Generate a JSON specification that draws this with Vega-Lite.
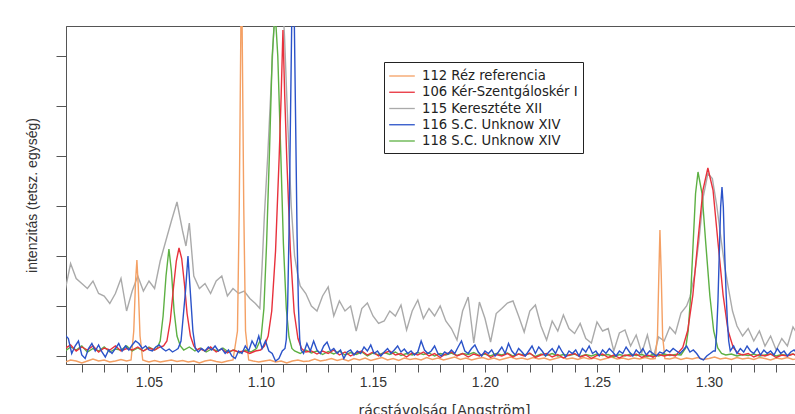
{
  "$schema": "https://vega.github.io/schema/vega-lite/v6.json",
  "autosize": "none",
  "padding": {"left": 66, "top": 26, "right": 0, "bottom": 50},
  "width": 756,
  "height": 338,
  "config": {
    "font": "Liberation Sans",
    "view": {"stroke": "#555555", "strokeWidth": 1},
    "axis": {"grid": false, "domainColor": "#555555", "tickColor": "#555555", "labelFont": "Liberation Sans", "titleFont": "Liberation Sans", "labelFontSize": 14, "titleFontSize": 14, "titleFontWeight": "normal", "labelColor": "#333333", "titleColor": "#333333"}
  },
  "datasets": {
    "s112": [
      {"x":1.0125,"y":-0.12},{"x":1.015,"y":-0.08},{"x":1.0175,"y":-0.1},{"x":1.02,"y":-0.14},{"x":1.0225,"y":-0.1},{"x":1.025,"y":-0.06},{"x":1.0275,"y":-0.1},{"x":1.03,"y":-0.08},{"x":1.0325,"y":-0.12},{"x":1.035,"y":-0.1},{"x":1.0375,"y":-0.07},{"x":1.04,"y":-0.1},{"x":1.042,"y":-0.08},{"x":1.0432,"y":0.5},{"x":1.044,"y":1.5},{"x":1.0446,"y":1.92},{"x":1.0452,"y":1.4},{"x":1.046,"y":0.4},{"x":1.0472,"y":-0.08},{"x":1.0485,"y":-0.1},{"x":1.05,"y":-0.12},{"x":1.0525,"y":-0.09},{"x":1.055,"y":-0.12},{"x":1.0575,"y":-0.1},{"x":1.06,"y":-0.08},{"x":1.0625,"y":-0.11},{"x":1.065,"y":-0.09},{"x":1.0675,"y":-0.12},{"x":1.07,"y":-0.1},{"x":1.0725,"y":-0.14},{"x":1.075,"y":-0.1},{"x":1.0775,"y":-0.08},{"x":1.08,"y":-0.11},{"x":1.0825,"y":-0.13},{"x":1.085,"y":-0.1},{"x":1.0875,"y":-0.08},{"x":1.0895,"y":0.5},{"x":1.0903,"y":3.0},{"x":1.091,"y":6.5},{"x":1.0913,"y":8.5},{"x":1.0916,"y":6.5},{"x":1.0923,"y":3.0},{"x":1.0931,"y":0.5},{"x":1.0945,"y":-0.08},{"x":1.0965,"y":-0.1},{"x":1.099,"y":-0.12},{"x":1.1015,"y":-0.1},{"x":1.104,"y":-0.08},{"x":1.1065,"y":-0.12},{"x":1.109,"y":-0.1},{"x":1.1115,"y":-0.14},{"x":1.114,"y":-0.1},{"x":1.1165,"y":-0.08},{"x":1.119,"y":-0.11},{"x":1.1215,"y":-0.1},{"x":1.124,"y":-0.06},{"x":1.1265,"y":-0.1},{"x":1.129,"y":-0.08},{"x":1.1315,"y":-0.05},{"x":1.134,"y":-0.09},{"x":1.1365,"y":-0.06},{"x":1.139,"y":-0.1},{"x":1.1415,"y":-0.05},{"x":1.144,"y":-0.08},{"x":1.1465,"y":-0.04},{"x":1.149,"y":-0.09},{"x":1.1515,"y":-0.06},{"x":1.154,"y":-0.03},{"x":1.1565,"y":-0.08},{"x":1.159,"y":-0.05},{"x":1.1615,"y":-0.09},{"x":1.164,"y":-0.04},{"x":1.1665,"y":-0.07},{"x":1.169,"y":-0.05},{"x":1.1715,"y":-0.08},{"x":1.174,"y":-0.03},{"x":1.1765,"y":-0.07},{"x":1.179,"y":-0.04},{"x":1.1815,"y":-0.08},{"x":1.184,"y":-0.05},{"x":1.1865,"y":-0.02},{"x":1.189,"y":-0.07},{"x":1.1915,"y":-0.04},{"x":1.194,"y":-0.08},{"x":1.1965,"y":-0.05},{"x":1.199,"y":-0.03},{"x":1.2015,"y":-0.07},{"x":1.204,"y":-0.04},{"x":1.2065,"y":-0.08},{"x":1.209,"y":-0.05},{"x":1.2115,"y":-0.02},{"x":1.214,"y":-0.06},{"x":1.2165,"y":-0.04},{"x":1.219,"y":-0.07},{"x":1.2215,"y":-0.03},{"x":1.224,"y":-0.06},{"x":1.2265,"y":-0.04},{"x":1.229,"y":-0.08},{"x":1.2315,"y":-0.05},{"x":1.234,"y":-0.02},{"x":1.2365,"y":-0.06},{"x":1.239,"y":-0.04},{"x":1.2415,"y":-0.07},{"x":1.244,"y":-0.03},{"x":1.2465,"y":-0.06},{"x":1.249,"y":-0.04},{"x":1.2515,"y":-0.08},{"x":1.254,"y":-0.05},{"x":1.2565,"y":-0.02},{"x":1.259,"y":-0.06},{"x":1.2615,"y":-0.04},{"x":1.264,"y":-0.07},{"x":1.2665,"y":-0.04},{"x":1.269,"y":-0.06},{"x":1.2715,"y":-0.03},{"x":1.274,"y":-0.06},{"x":1.276,"y":-0.05},{"x":1.277,"y":0.4},{"x":1.2776,"y":1.6},{"x":1.2781,"y":2.52},{"x":1.2787,"y":1.6},{"x":1.2793,"y":0.4},{"x":1.2803,"y":-0.05},{"x":1.2825,"y":-0.06},{"x":1.285,"y":-0.03},{"x":1.2875,"y":-0.07},{"x":1.29,"y":-0.04},{"x":1.2925,"y":-0.06},{"x":1.295,"y":-0.03},{"x":1.2975,"y":-0.07},{"x":1.3,"y":-0.05},{"x":1.3025,"y":-0.02},{"x":1.305,"y":-0.06},{"x":1.3075,"y":-0.04},{"x":1.31,"y":-0.07},{"x":1.3125,"y":-0.03},{"x":1.315,"y":-0.06},{"x":1.3175,"y":-0.04},{"x":1.32,"y":-0.07},{"x":1.3225,"y":-0.03},{"x":1.325,"y":-0.05},{"x":1.3275,"y":-0.08},{"x":1.33,"y":-0.04},{"x":1.3325,"y":-0.06},{"x":1.335,"y":-0.03},{"x":1.3375,"y":-0.07},{"x":1.34,"y":-0.05},{"x":1.3425,"y":-0.03},{"x":1.345,"y":-0.06},{"x":1.3475,"y":-0.04},{"x":1.35,"y":-0.06}
    ],
    "s106": [
      {"x":1.0125,"y":0.15},{"x":1.015,"y":0.22},{"x":1.0175,"y":0.1},{"x":1.02,"y":0.18},{"x":1.0225,"y":0.12},{"x":1.025,"y":0.2},{"x":1.0275,"y":0.08},{"x":1.03,"y":0.16},{"x":1.0325,"y":0.12},{"x":1.035,"y":0.2},{"x":1.0375,"y":0.1},{"x":1.04,"y":0.15},{"x":1.0425,"y":0.12},{"x":1.045,"y":0.18},{"x":1.0475,"y":0.1},{"x":1.05,"y":0.16},{"x":1.0525,"y":0.12},{"x":1.055,"y":0.18},{"x":1.0565,"y":0.2},{"x":1.058,"y":0.3},{"x":1.0595,"y":0.7},{"x":1.061,"y":1.4},{"x":1.0622,"y":1.9},{"x":1.0634,"y":2.16},{"x":1.0646,"y":1.95},{"x":1.0658,"y":1.45},{"x":1.067,"y":0.85},{"x":1.0685,"y":0.4},{"x":1.07,"y":0.2},{"x":1.0715,"y":0.12},{"x":1.0725,"y":0.15},{"x":1.075,"y":0.1},{"x":1.0775,"y":0.18},{"x":1.08,"y":0.08},{"x":1.0825,"y":0.14},{"x":1.085,"y":0.06},{"x":1.0875,"y":0.12},{"x":1.09,"y":0.08},{"x":1.0925,"y":0.1},{"x":1.095,"y":0.05},{"x":1.0975,"y":0.1},{"x":1.0998,"y":0.12},{"x":1.1015,"y":0.2},{"x":1.1032,"y":0.4},{"x":1.1048,"y":0.9},{"x":1.1065,"y":2.1},{"x":1.1081,"y":3.96},{"x":1.109,"y":5.2},{"x":1.1098,"y":6.52},{"x":1.1106,"y":5.2},{"x":1.1115,"y":3.96},{"x":1.1131,"y":2.12},{"x":1.1148,"y":0.88},{"x":1.1165,"y":0.35},{"x":1.1181,"y":0.15},{"x":1.12,"y":0.08},{"x":1.1225,"y":0.1},{"x":1.125,"y":0.04},{"x":1.1275,"y":0.1},{"x":1.13,"y":0.05},{"x":1.1325,"y":0.12},{"x":1.135,"y":0.02},{"x":1.1375,"y":0.08},{"x":1.14,"y":0.0},{"x":1.1425,"y":0.06},{"x":1.145,"y":0.1},{"x":1.1475,"y":0.02},{"x":1.15,"y":0.08},{"x":1.1525,"y":0.0},{"x":1.155,"y":0.06},{"x":1.1575,"y":0.1},{"x":1.16,"y":0.02},{"x":1.1625,"y":0.05},{"x":1.165,"y":-0.02},{"x":1.1675,"y":0.06},{"x":1.17,"y":0.02},{"x":1.1725,"y":0.08},{"x":1.175,"y":0.0},{"x":1.1775,"y":0.05},{"x":1.18,"y":-0.03},{"x":1.1825,"y":0.04},{"x":1.185,"y":0.08},{"x":1.1875,"y":0.0},{"x":1.19,"y":0.05},{"x":1.1925,"y":-0.02},{"x":1.195,"y":0.04},{"x":1.1975,"y":0.0},{"x":1.2,"y":0.06},{"x":1.2025,"y":-0.03},{"x":1.205,"y":0.03},{"x":1.2075,"y":0.0},{"x":1.21,"y":0.05},{"x":1.2125,"y":-0.02},{"x":1.215,"y":0.04},{"x":1.2175,"y":0.0},{"x":1.22,"y":0.06},{"x":1.2225,"y":-0.03},{"x":1.225,"y":0.02},{"x":1.2275,"y":0.05},{"x":1.23,"y":-0.02},{"x":1.2325,"y":0.03},{"x":1.235,"y":-0.04},{"x":1.2375,"y":0.02},{"x":1.24,"y":0.05},{"x":1.2425,"y":-0.02},{"x":1.245,"y":0.02},{"x":1.2475,"y":-0.05},{"x":1.25,"y":0.01},{"x":1.2525,"y":0.04},{"x":1.255,"y":-0.03},{"x":1.2575,"y":0.02},{"x":1.26,"y":-0.04},{"x":1.2625,"y":0.02},{"x":1.265,"y":0.0},{"x":1.2675,"y":0.04},{"x":1.27,"y":-0.03},{"x":1.2725,"y":0.02},{"x":1.275,"y":-0.02},{"x":1.2775,"y":0.03},{"x":1.28,"y":0.0},{"x":1.2825,"y":0.03},{"x":1.285,"y":0.0},{"x":1.2883,"y":0.17},{"x":1.2905,"y":0.51},{"x":1.2928,"y":1.22},{"x":1.295,"y":2.28},{"x":1.2973,"y":3.32},{"x":1.2995,"y":3.76},{"x":1.3018,"y":3.32},{"x":1.304,"y":2.28},{"x":1.3063,"y":1.22},{"x":1.3085,"y":0.51},{"x":1.3108,"y":0.17},{"x":1.313,"y":0.05},{"x":1.315,"y":0.02},{"x":1.3175,"y":0.05},{"x":1.32,"y":-0.02},{"x":1.3225,"y":0.03},{"x":1.325,"y":0.0},{"x":1.3275,"y":0.04},{"x":1.33,"y":-0.03},{"x":1.3325,"y":0.02},{"x":1.335,"y":0.0},{"x":1.3375,"y":0.04},{"x":1.34,"y":-0.02},{"x":1.3425,"y":0.02},{"x":1.345,"y":0.0},{"x":1.3475,"y":0.03},{"x":1.35,"y":-0.01}
    ],
    "s115": [
      {"x":1.0125,"y":1.3},{"x":1.015,"y":1.85},{"x":1.0175,"y":1.55},{"x":1.02,"y":1.45},{"x":1.0225,"y":1.35},{"x":1.025,"y":1.5},{"x":1.0275,"y":1.25},{"x":1.03,"y":1.2},{"x":1.0325,"y":1.05},{"x":1.035,"y":1.25},{"x":1.0375,"y":1.55},{"x":1.04,"y":0.9},{"x":1.0425,"y":1.3},{"x":1.045,"y":1.6},{"x":1.0475,"y":1.3},{"x":1.05,"y":1.5},{"x":1.0525,"y":1.35},{"x":1.055,"y":1.9},{"x":1.0575,"y":2.3},{"x":1.06,"y":2.7},{"x":1.0625,"y":3.08},{"x":1.065,"y":2.5},{"x":1.0665,"y":2.2},{"x":1.068,"y":2.66},{"x":1.07,"y":1.6},{"x":1.0725,"y":1.35},{"x":1.075,"y":1.45},{"x":1.0775,"y":1.25},{"x":1.08,"y":1.5},{"x":1.0825,"y":1.6},{"x":1.085,"y":1.2},{"x":1.0875,"y":1.35},{"x":1.09,"y":1.25},{"x":1.0925,"y":1.3},{"x":1.095,"y":1.15},{"x":1.0975,"y":1.05},{"x":1.0995,"y":0.95},{"x":1.1005,"y":1.8},{"x":1.1015,"y":2.8},{"x":1.103,"y":4.0},{"x":1.1045,"y":5.4},{"x":1.106,"y":6.8},{"x":1.1075,"y":7.8},{"x":1.109,"y":7.6},{"x":1.1105,"y":6.4},{"x":1.112,"y":4.6},{"x":1.1135,"y":3.0},{"x":1.115,"y":2.0},{"x":1.1165,"y":1.6},{"x":1.1175,"y":1.4},{"x":1.12,"y":1.25},{"x":1.1225,"y":1.0},{"x":1.125,"y":0.9},{"x":1.1275,"y":1.2},{"x":1.13,"y":1.38},{"x":1.1325,"y":0.8},{"x":1.135,"y":1.1},{"x":1.1375,"y":0.9},{"x":1.14,"y":1.0},{"x":1.1425,"y":0.5},{"x":1.145,"y":0.95},{"x":1.1475,"y":1.06},{"x":1.15,"y":0.8},{"x":1.1525,"y":0.65},{"x":1.155,"y":0.7},{"x":1.1575,"y":0.9},{"x":1.16,"y":0.8},{"x":1.1625,"y":1.02},{"x":1.165,"y":0.52},{"x":1.1675,"y":0.9},{"x":1.17,"y":1.12},{"x":1.1725,"y":0.75},{"x":1.175,"y":0.95},{"x":1.1775,"y":0.8},{"x":1.18,"y":1.0},{"x":1.1825,"y":0.7},{"x":1.185,"y":0.55},{"x":1.1875,"y":0.32},{"x":1.19,"y":0.9},{"x":1.1925,"y":1.18},{"x":1.195,"y":0.26},{"x":1.1975,"y":1.08},{"x":1.2,"y":0.75},{"x":1.2025,"y":0.28},{"x":1.205,"y":0.85},{"x":1.2075,"y":0.95},{"x":1.21,"y":1.06},{"x":1.2125,"y":1.1},{"x":1.215,"y":0.8},{"x":1.2175,"y":0.48},{"x":1.22,"y":0.9},{"x":1.2225,"y":1.02},{"x":1.225,"y":0.6},{"x":1.2275,"y":0.32},{"x":1.23,"y":0.7},{"x":1.2325,"y":0.5},{"x":1.235,"y":0.82},{"x":1.2375,"y":0.55},{"x":1.24,"y":0.45},{"x":1.2425,"y":0.65},{"x":1.245,"y":0.35},{"x":1.2475,"y":0.26},{"x":1.25,"y":0.68},{"x":1.2525,"y":0.5},{"x":1.255,"y":0.55},{"x":1.2575,"y":0.1},{"x":1.26,"y":0.46},{"x":1.2625,"y":0.52},{"x":1.265,"y":0.2},{"x":1.2675,"y":0.42},{"x":1.27,"y":0.06},{"x":1.2725,"y":0.42},{"x":1.275,"y":-0.06},{"x":1.2775,"y":0.38},{"x":1.28,"y":0.3},{"x":1.2825,"y":0.58},{"x":1.285,"y":0.45},{"x":1.2875,"y":0.86},{"x":1.29,"y":1.0},{"x":1.2915,"y":1.18},{"x":1.2935,"y":1.6},{"x":1.2955,"y":2.3},{"x":1.2975,"y":3.2},{"x":1.2995,"y":3.65},{"x":1.3015,"y":3.55},{"x":1.3035,"y":3.0},{"x":1.3055,"y":2.3},{"x":1.307,"y":1.8},{"x":1.3085,"y":1.4},{"x":1.3105,"y":0.9},{"x":1.3125,"y":0.6},{"x":1.315,"y":0.4},{"x":1.3175,"y":0.55},{"x":1.32,"y":0.3},{"x":1.3225,"y":0.5},{"x":1.325,"y":0.2},{"x":1.3275,"y":0.4},{"x":1.33,"y":0.12},{"x":1.3325,"y":0.35},{"x":1.335,"y":0.2},{"x":1.3375,"y":0.58},{"x":1.34,"y":0.4},{"x":1.3425,"y":0.6},{"x":1.345,"y":0.35},{"x":1.3475,"y":0.5},{"x":1.35,"y":0.3}
    ],
    "s116": [
      {"x":1.0125,"y":0.42},{"x":1.014,"y":0.35},{"x":1.0155,"y":0.05},{"x":1.017,"y":0.2},{"x":1.0185,"y":0.3},{"x":1.02,"y":0.02},{"x":1.0215,"y":-0.05},{"x":1.023,"y":0.15},{"x":1.0245,"y":0.25},{"x":1.026,"y":0.1},{"x":1.0275,"y":0.22},{"x":1.029,"y":0.08},{"x":1.0305,"y":-0.02},{"x":1.032,"y":0.12},{"x":1.0335,"y":0.05},{"x":1.035,"y":0.15},{"x":1.0365,"y":0.25},{"x":1.038,"y":0.1},{"x":1.0395,"y":0.2},{"x":1.041,"y":0.12},{"x":1.0425,"y":0.22},{"x":1.044,"y":0.3},{"x":1.0455,"y":0.25},{"x":1.047,"y":0.15},{"x":1.0485,"y":0.2},{"x":1.05,"y":0.12},{"x":1.0515,"y":0.1},{"x":1.053,"y":0.18},{"x":1.0545,"y":0.22},{"x":1.056,"y":0.15},{"x":1.0575,"y":0.1},{"x":1.059,"y":0.14},{"x":1.0605,"y":0.08},{"x":1.062,"y":0.12},{"x":1.063,"y":0.15},{"x":1.0643,"y":0.3},{"x":1.0652,"y":0.75},{"x":1.0663,"y":1.3},{"x":1.0674,"y":2.0},{"x":1.0685,"y":1.25},{"x":1.0696,"y":0.5},{"x":1.0707,"y":0.15},{"x":1.072,"y":0.08},{"x":1.0735,"y":0.15},{"x":1.075,"y":0.1},{"x":1.0765,"y":0.18},{"x":1.078,"y":0.12},{"x":1.0795,"y":0.2},{"x":1.081,"y":0.1},{"x":1.0825,"y":0.15},{"x":1.084,"y":0.05},{"x":1.0855,"y":0.12},{"x":1.087,"y":0.0},{"x":1.0885,"y":-0.05},{"x":1.09,"y":0.1},{"x":1.0915,"y":0.05},{"x":1.093,"y":0.2},{"x":1.0945,"y":0.1},{"x":1.096,"y":0.3},{"x":1.0975,"y":0.18},{"x":1.099,"y":0.4},{"x":1.1005,"y":0.15},{"x":1.102,"y":0.3},{"x":1.1035,"y":0.1},{"x":1.105,"y":0.05},{"x":1.1065,"y":-0.1},{"x":1.108,"y":-0.05},{"x":1.1095,"y":0.1},{"x":1.1107,"y":0.15},{"x":1.1113,"y":0.33},{"x":1.1119,"y":1.01},{"x":1.1125,"y":2.44},{"x":1.1131,"y":4.55},{"x":1.1137,"y":6.6},{"x":1.1143,"y":7.5},{"x":1.1149,"y":6.6},{"x":1.1155,"y":4.55},{"x":1.1161,"y":2.44},{"x":1.1167,"y":1.01},{"x":1.1173,"y":0.33},{"x":1.1179,"y":0.12},{"x":1.119,"y":0.05},{"x":1.1205,"y":0.25},{"x":1.122,"y":0.1},{"x":1.1235,"y":0.3},{"x":1.125,"y":0.12},{"x":1.1265,"y":0.05},{"x":1.128,"y":0.2},{"x":1.1295,"y":0.28},{"x":1.131,"y":0.1},{"x":1.1325,"y":0.15},{"x":1.134,"y":0.05},{"x":1.1355,"y":0.12},{"x":1.137,"y":-0.05},{"x":1.1385,"y":0.08},{"x":1.14,"y":0.12},{"x":1.1415,"y":0.02},{"x":1.143,"y":0.1},{"x":1.1445,"y":0.05},{"x":1.146,"y":0.18},{"x":1.1475,"y":0.1},{"x":1.149,"y":0.22},{"x":1.1505,"y":0.05},{"x":1.152,"y":0.1},{"x":1.1535,"y":0.0},{"x":1.155,"y":0.08},{"x":1.1565,"y":0.15},{"x":1.158,"y":0.05},{"x":1.1595,"y":0.12},{"x":1.161,"y":0.2},{"x":1.1625,"y":0.08},{"x":1.164,"y":0.14},{"x":1.1655,"y":0.05},{"x":1.167,"y":0.1},{"x":1.1685,"y":0.02},{"x":1.17,"y":0.08},{"x":1.1715,"y":0.3},{"x":1.173,"y":0.12},{"x":1.1745,"y":0.05},{"x":1.176,"y":0.1},{"x":1.1775,"y":0.2},{"x":1.179,"y":0.05},{"x":1.1805,"y":0.0},{"x":1.182,"y":0.08},{"x":1.1835,"y":0.04},{"x":1.185,"y":0.12},{"x":1.1865,"y":0.05},{"x":1.188,"y":0.18},{"x":1.1895,"y":0.3},{"x":1.191,"y":0.1},{"x":1.1925,"y":0.05},{"x":1.194,"y":0.15},{"x":1.1955,"y":0.22},{"x":1.197,"y":0.08},{"x":1.1985,"y":0.0},{"x":1.2,"y":0.1},{"x":1.2015,"y":0.05},{"x":1.203,"y":0.12},{"x":1.2045,"y":0.0},{"x":1.206,"y":0.08},{"x":1.2075,"y":0.18},{"x":1.209,"y":0.05},{"x":1.2105,"y":0.25},{"x":1.212,"y":0.1},{"x":1.2135,"y":0.02},{"x":1.215,"y":0.15},{"x":1.2165,"y":0.08},{"x":1.218,"y":0.0},{"x":1.2195,"y":0.1},{"x":1.221,"y":0.2},{"x":1.2225,"y":0.05},{"x":1.224,"y":0.18},{"x":1.2255,"y":0.1},{"x":1.227,"y":0.0},{"x":1.2285,"y":0.08},{"x":1.23,"y":0.15},{"x":1.2315,"y":0.05},{"x":1.233,"y":0.2},{"x":1.2345,"y":0.08},{"x":1.236,"y":-0.02},{"x":1.2375,"y":0.1},{"x":1.239,"y":0.05},{"x":1.2405,"y":0.12},{"x":1.242,"y":0.0},{"x":1.2435,"y":0.15},{"x":1.245,"y":0.08},{"x":1.2465,"y":0.2},{"x":1.248,"y":0.05},{"x":1.2495,"y":0.1},{"x":1.251,"y":0.0},{"x":1.2525,"y":0.12},{"x":1.254,"y":0.05},{"x":1.2555,"y":0.15},{"x":1.257,"y":0.08},{"x":1.2585,"y":0.0},{"x":1.26,"y":0.1},{"x":1.2615,"y":0.05},{"x":1.263,"y":0.18},{"x":1.2645,"y":0.08},{"x":1.266,"y":0.0},{"x":1.2675,"y":0.12},{"x":1.269,"y":0.05},{"x":1.2705,"y":0.15},{"x":1.272,"y":0.02},{"x":1.2735,"y":0.1},{"x":1.275,"y":0.05},{"x":1.2765,"y":0.0},{"x":1.278,"y":0.08},{"x":1.2795,"y":0.05},{"x":1.281,"y":0.12},{"x":1.2825,"y":0.08},{"x":1.284,"y":0.15},{"x":1.2855,"y":0.1},{"x":1.287,"y":0.05},{"x":1.2885,"y":0.12},{"x":1.29,"y":0.2},{"x":1.2915,"y":0.08},{"x":1.293,"y":0.12},{"x":1.2945,"y":0.05},{"x":1.296,"y":-0.05},{"x":1.2975,"y":-0.08},{"x":1.299,"y":0.0},{"x":1.3005,"y":0.05},{"x":1.302,"y":0.1},{"x":1.3028,"y":0.1},{"x":1.3034,"y":0.46},{"x":1.304,"y":1.1},{"x":1.3046,"y":2.05},{"x":1.3052,"y":2.98},{"x":1.3058,"y":3.38},{"x":1.3064,"y":2.98},{"x":1.307,"y":2.05},{"x":1.3076,"y":1.3},{"x":1.3082,"y":0.7},{"x":1.3088,"y":0.3},{"x":1.3095,"y":0.1},{"x":1.311,"y":0.2},{"x":1.3125,"y":0.05},{"x":1.314,"y":0.15},{"x":1.3155,"y":0.08},{"x":1.317,"y":0.2},{"x":1.3185,"y":0.1},{"x":1.32,"y":0.05},{"x":1.3215,"y":0.15},{"x":1.323,"y":0.02},{"x":1.3245,"y":0.12},{"x":1.326,"y":0.05},{"x":1.3275,"y":0.1},{"x":1.329,"y":0.02},{"x":1.3305,"y":0.15},{"x":1.332,"y":0.05},{"x":1.3335,"y":0.1},{"x":1.335,"y":0.0},{"x":1.3365,"y":0.08},{"x":1.338,"y":0.12},{"x":1.3395,"y":0.05},{"x":1.341,"y":0.1},{"x":1.343,"y":0.0},{"x":1.345,"y":0.08},{"x":1.3475,"y":0.05},{"x":1.35,"y":0.1}
    ],
    "s118": [
      {"x":1.0125,"y":0.1},{"x":1.015,"y":0.18},{"x":1.0175,"y":0.12},{"x":1.02,"y":0.2},{"x":1.0225,"y":0.08},{"x":1.025,"y":0.15},{"x":1.0275,"y":0.1},{"x":1.03,"y":0.18},{"x":1.0325,"y":0.08},{"x":1.035,"y":0.14},{"x":1.0375,"y":0.12},{"x":1.04,"y":0.2},{"x":1.0425,"y":0.1},{"x":1.045,"y":0.16},{"x":1.0475,"y":0.1},{"x":1.05,"y":0.18},{"x":1.0525,"y":0.12},{"x":1.0535,"y":0.15},{"x":1.055,"y":0.3},{"x":1.0563,"y":0.8},{"x":1.0576,"y":1.6},{"x":1.0589,"y":2.14},{"x":1.06,"y":1.7},{"x":1.0612,"y":0.9},{"x":1.0625,"y":0.4},{"x":1.064,"y":0.2},{"x":1.0655,"y":0.12},{"x":1.068,"y":0.18},{"x":1.0705,"y":0.1},{"x":1.073,"y":0.16},{"x":1.0755,"y":0.08},{"x":1.078,"y":0.14},{"x":1.0805,"y":0.1},{"x":1.083,"y":0.16},{"x":1.0855,"y":0.08},{"x":1.088,"y":0.12},{"x":1.0905,"y":0.06},{"x":1.093,"y":0.12},{"x":1.0955,"y":0.08},{"x":1.098,"y":0.15},{"x":1.1,"y":0.35},{"x":1.1013,"y":0.95},{"x":1.1025,"y":2.25},{"x":1.1038,"y":4.1},{"x":1.105,"y":6.0},{"x":1.1063,"y":6.9},{"x":1.1075,"y":6.0},{"x":1.1088,"y":4.1},{"x":1.11,"y":2.25},{"x":1.1113,"y":0.95},{"x":1.1125,"y":0.38},{"x":1.1138,"y":0.15},{"x":1.115,"y":0.1},{"x":1.1175,"y":0.05},{"x":1.12,"y":0.12},{"x":1.1225,"y":0.06},{"x":1.125,"y":0.1},{"x":1.1275,"y":0.03},{"x":1.13,"y":0.09},{"x":1.1325,"y":0.04},{"x":1.135,"y":0.1},{"x":1.1375,"y":0.02},{"x":1.14,"y":0.07},{"x":1.1425,"y":0.03},{"x":1.145,"y":0.08},{"x":1.1475,"y":0.0},{"x":1.15,"y":0.06},{"x":1.1525,"y":0.02},{"x":1.155,"y":0.07},{"x":1.1575,"y":0.03},{"x":1.16,"y":0.08},{"x":1.1625,"y":0.01},{"x":1.165,"y":0.05},{"x":1.1675,"y":0.02},{"x":1.17,"y":0.07},{"x":1.1725,"y":0.03},{"x":1.175,"y":0.06},{"x":1.1775,"y":0.0},{"x":1.18,"y":0.05},{"x":1.1825,"y":0.02},{"x":1.185,"y":0.06},{"x":1.1875,"y":0.01},{"x":1.19,"y":0.05},{"x":1.1925,"y":0.03},{"x":1.195,"y":0.07},{"x":1.1975,"y":0.01},{"x":1.2,"y":0.04},{"x":1.2025,"y":0.0},{"x":1.205,"y":0.05},{"x":1.2075,"y":0.02},{"x":1.21,"y":0.06},{"x":1.2125,"y":0.0},{"x":1.215,"y":0.04},{"x":1.2175,"y":0.02},{"x":1.22,"y":0.05},{"x":1.2225,"y":-0.01},{"x":1.225,"y":0.04},{"x":1.2275,"y":0.01},{"x":1.23,"y":0.05},{"x":1.2325,"y":0.0},{"x":1.235,"y":0.03},{"x":1.2375,"y":0.01},{"x":1.24,"y":0.04},{"x":1.2425,"y":-0.01},{"x":1.245,"y":0.03},{"x":1.2475,"y":0.0},{"x":1.25,"y":0.04},{"x":1.2525,"y":0.01},{"x":1.255,"y":0.03},{"x":1.2575,"y":-0.02},{"x":1.26,"y":0.03},{"x":1.2625,"y":0.0},{"x":1.265,"y":0.04},{"x":1.2675,"y":0.01},{"x":1.27,"y":0.03},{"x":1.2725,"y":-0.01},{"x":1.275,"y":0.03},{"x":1.2775,"y":0.0},{"x":1.28,"y":0.04},{"x":1.2825,"y":0.01},{"x":1.285,"y":0.03},{"x":1.2875,"y":0.02},{"x":1.2896,"y":0.16},{"x":1.2907,"y":0.5},{"x":1.2918,"y":1.2},{"x":1.2929,"y":2.23},{"x":1.294,"y":3.25},{"x":1.2951,"y":3.68},{"x":1.2969,"y":3.25},{"x":1.2986,"y":2.23},{"x":1.3004,"y":1.2},{"x":1.3021,"y":0.5},{"x":1.3039,"y":0.16},{"x":1.3056,"y":0.05},{"x":1.3075,"y":0.02},{"x":1.31,"y":0.04},{"x":1.3125,"y":0.0},{"x":1.315,"y":0.03},{"x":1.3175,"y":0.01},{"x":1.32,"y":0.04},{"x":1.3225,"y":0.0},{"x":1.325,"y":0.02},{"x":1.3275,"y":0.04},{"x":1.33,"y":0.0},{"x":1.3325,"y":0.03},{"x":1.335,"y":0.01},{"x":1.3375,"y":0.04},{"x":1.34,"y":0.0},{"x":1.345,"y":0.03},{"x":1.35,"y":0.01}
    ]
  },
  "encoding": {
    "x": {
      "field": "x", "type": "quantitative",
      "scale": {"domain": [1.01295, 1.35045], "nice": false, "zero": false},
      "axis": {
        "title": "rácstávolság [Angström]",
        "titleFont": "DejaVu Sans",
        "values": [1.02,1.03,1.04,1.05,1.06,1.07,1.08,1.09,1.1,1.11,1.12,1.13,1.14,1.15,1.16,1.17,1.18,1.19,1.2,1.21,1.22,1.23,1.24,1.25,1.26,1.27,1.28,1.29,1.3,1.31,1.32,1.33,1.34],
        "labelExpr": "abs(round(datum.value*100) % 5) < 0.5 ? format(datum.value, '.2f') : ''",
        "labelOverlap": false,
        "labelFlush": false,
        "tickSize": 8,
        "labelPadding": 3,
        "titlePadding": 14,
        "encode": {"ticks": {"update": {"y2": {"signal": "abs(round(datum.value*100) % 5) < 0.5 ? 8 : 5"}}}}
      }
    },
    "y": {
      "field": "y", "type": "quantitative",
      "scale": {"domain": [-0.16, 6.6], "nice": false, "zero": false},
      "axis": {"title": "intenzitás (tetsz. egység)", "values": [0,1,2,3,4,5,6], "labels": false, "tickSize": 10, "titlePadding": 16}
    }
  },
  "layer": [
    {
      "data": {"name": "s115"},
      "mark": {"type": "line", "clip": true, "strokeWidth": 1.4},
      "encoding": {
        "color": {
          "datum": "115 Keresztéte XII", "type": "nominal",
          "scale": {
            "domain": ["112 Réz referencia", "106 Kér-Szentgáloskér I", "115 Keresztéte XII", "116 S.C. Unknow XIV", "118 S.C. Unknow XIV"],
            "range": ["#f4a064", "#e8313c", "#aaaaaa", "#2b53c9", "#5db043"]
          },
          "legend": {
            "title": null, "orient": "none", "legendX": 318, "legendY": 36,
            "strokeColor": "#222222", "fillColor": "#ffffff", "padding": 5,
            "symbolType": "M-1.6,0H1.6", "symbolSize": 256, "symbolStrokeWidth": 1.3, "symbolOffset": 4,
            "labelFont": "DejaVu Sans", "labelFontSize": 13.2, "labelColor": "#222222", "labelOffset": 11,
            "rowPadding": 0.25, "labelLimit": 300
          }
        }
      }
    },
    {
      "data": {"name": "s112"},
      "mark": {"type": "line", "clip": true, "strokeWidth": 1.4},
      "encoding": {"color": {"datum": "112 Réz referencia", "type": "nominal"}}
    },
    {
      "data": {"name": "s118"},
      "mark": {"type": "line", "clip": true, "strokeWidth": 1.4},
      "encoding": {"color": {"datum": "118 S.C. Unknow XIV", "type": "nominal"}}
    },
    {
      "data": {"name": "s106"},
      "mark": {"type": "line", "clip": true, "strokeWidth": 1.4},
      "encoding": {"color": {"datum": "106 Kér-Szentgáloskér I", "type": "nominal"}}
    },
    {
      "data": {"name": "s116"},
      "mark": {"type": "line", "clip": true, "strokeWidth": 1.4},
      "encoding": {"color": {"datum": "116 S.C. Unknow XIV", "type": "nominal"}}
    }
  ]
}
